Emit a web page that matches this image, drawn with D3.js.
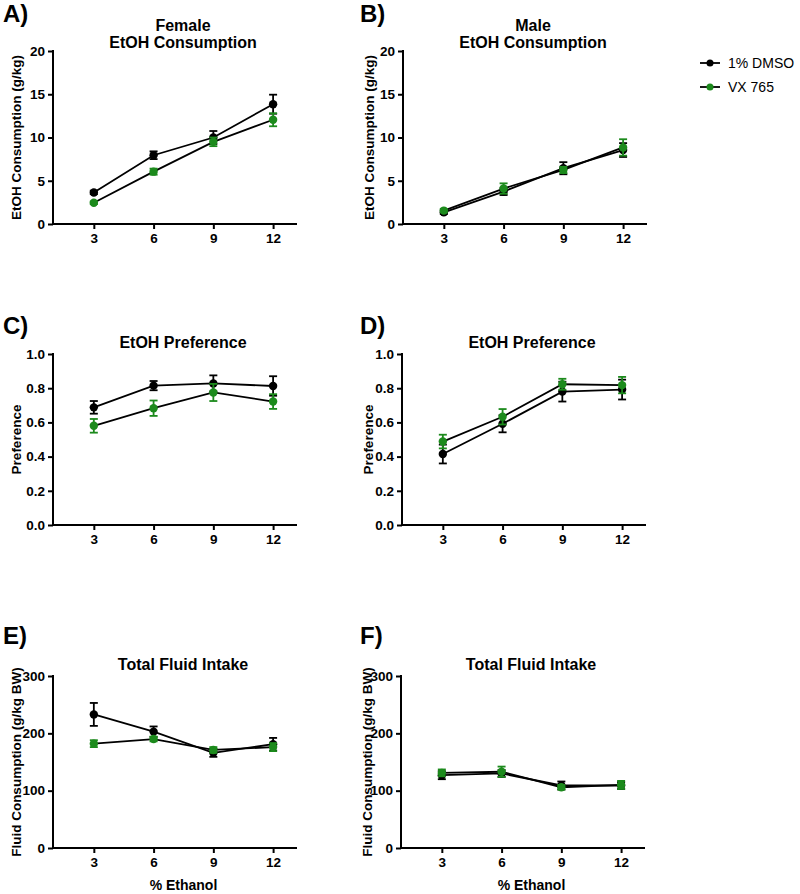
<!DOCTYPE html>
<html>
<head>
<meta charset="utf-8">
<script src="https://cdn.jsdelivr.net/npm/d3@7"></script>
<style>
  body { margin: 0; background: #fff; }
  svg text { font-family: "Liberation Sans", Arial, sans-serif; }
</style>
</head>
<body>
<svg id="chart" width="800" height="894"></svg>
<script>
// ========== DATA ==========
var ethanol = [3, 6, 9, 12];
var groups = ['1% DMSO', 'VX 765'];

// A) female EtOH consumption (g/kg)
var femaleConsDmso = [3.65, 7.95, 10.0, 13.85];
var femaleConsDmsoErr = [0.2, 0.45, 0.75, 1.1];
var femaleConsVx = [2.45, 6.05, 9.5, 12.05];
var femaleConsVxErr = [0.15, 0.35, 0.5, 0.75];

// B) male EtOH consumption (g/kg)
var maleConsDmso = [1.35, 3.75, 6.45, 8.55];
var maleConsDmsoErr = [0.2, 0.4, 0.7, 0.8];
var maleConsVx = [1.55, 4.1, 6.25, 8.85];
var maleConsVxErr = [0.2, 0.6, 0.35, 0.95];

// C) female preference
var femalePrefDmso = [0.688, 0.815, 0.828, 0.813];
var femalePrefDmsoErr = [0.037, 0.027, 0.047, 0.057];
var femalePrefVx = [0.58, 0.683, 0.775, 0.722];
var femalePrefVxErr = [0.04, 0.045, 0.05, 0.043];

// D) male preference
var malePrefDmso = [0.415, 0.592, 0.78, 0.792];
var malePrefDmsoErr = [0.055, 0.05, 0.058, 0.058];
var malePrefVx = [0.488, 0.633, 0.823, 0.818];
var malePrefVxErr = [0.04, 0.045, 0.032, 0.048];

// E) female total fluid (g/kg BW)
var femaleFluidDmso = [233, 203, 166, 181];
var femaleFluidDmsoErr = [20, 9, 7, 11];
var femaleFluidVx = [182, 190, 171, 176];
var femaleFluidVxErr = [6, 4, 5, 7];

// F) male total fluid (g/kg BW)
var maleFluidDmso = [127, 130, 109, 109];
var maleFluidDmsoErr = [7, 6, 7, 6];
var maleFluidVx = [131, 133, 106, 110];
var maleFluidVxErr = [6, 9, 4, 7];

var consTicks = [0, 5, 10, 15, 20];
var prefTicks = [0, 0.2, 0.4, 0.6, 0.8, 1.0];
var fluidTicks = [0, 100, 200, 300];

// ========== STYLE ==========
var black = '#000000';
var green = '#1c8a1c';
var colors = [black, green];

var svg = d3.select('#chart');

var panels = [
  { letter: 'A)', left: 53, top: 51, bottom: 224, title: ['Female', 'EtOH Consumption'],
    ylabel: 'EtOH Consumption (g/kg)', ticks: consTicks, fmt: d3.format('d'),
    series: [[femaleConsDmso, femaleConsDmsoErr], [femaleConsVx, femaleConsVxErr]] },
  { letter: 'B)', left: 403, top: 51, bottom: 224, title: ['Male', 'EtOH Consumption'],
    ylabel: 'EtOH Consumption (g/kg)', ticks: consTicks, fmt: d3.format('d'),
    series: [[maleConsDmso, maleConsDmsoErr], [maleConsVx, maleConsVxErr]] },
  { letter: 'C)', left: 53, top: 354, bottom: 525, title: ['EtOH Preference'],
    ylabel: 'Preference', ticks: prefTicks, fmt: d3.format('.1f'),
    series: [[femalePrefDmso, femalePrefDmsoErr], [femalePrefVx, femalePrefVxErr]] },
  { letter: 'D)', left: 402, top: 354, bottom: 525, title: ['EtOH Preference'],
    ylabel: 'Preference', ticks: prefTicks, fmt: d3.format('.1f'),
    series: [[malePrefDmso, malePrefDmsoErr], [malePrefVx, malePrefVxErr]] },
  { letter: 'E)', left: 53, top: 676, bottom: 848, title: ['Total Fluid Intake'],
    ylabel: 'Fluid Consumption (g/kg BW)', ticks: fluidTicks, fmt: d3.format('d'),
    xlabel: '% Ethanol',
    series: [[femaleFluidDmso, femaleFluidDmsoErr], [femaleFluidVx, femaleFluidVxErr]] },
  { letter: 'F)', left: 401, top: 676, bottom: 848, title: ['Total Fluid Intake'],
    ylabel: 'Fluid Consumption (g/kg BW)', ticks: fluidTicks, fmt: d3.format('d'),
    xlabel: '% Ethanol',
    series: [[maleFluidDmso, maleFluidDmsoErr], [maleFluidVx, maleFluidVxErr]] }
];

panels.forEach(drawPanel);
drawLegend();

function drawPanel(p) {
  var width = 244;
  var isLeft = p.left < 200;
  var x = d3.scaleLinear().domain([0.95, 13.2]).range([p.left, p.left + width]);
  var y = d3.scaleLinear()
    .domain([p.ticks[0], p.ticks[p.ticks.length - 1]])
    .range([p.bottom, p.top]);

  var g = svg.append('g');

  // panel letter
  var letterY = p.top < 100 ? 22 : (p.top < 400 ? 334 : 644);
  g.append('text')
    .attr('x', isLeft ? 3 : 360)
    .attr('y', letterY)
    .attr('font-size', 24)
    .attr('font-weight', 'bold')
    .text(p.letter);

  // title, last line sits just above the plot
  var lastBaseline = p.title.length > 1 ? p.top - 3 : p.top - 6;
  var title = g.append('text')
    .attr('text-anchor', 'middle')
    .attr('font-size', 16)
    .attr('font-weight', 'bold');
  p.title.forEach(function(t, i) {
    title.append('tspan')
      .attr('x', p.left + 130)
      .attr('y', lastBaseline - (p.title.length - 1 - i) * 17)
      .text(t);
  });

  // axes
  var yAxis = g.append('g')
    .attr('transform', 'translate(' + p.left + ',0)')
    .call(d3.axisLeft(y).tickValues(p.ticks).tickFormat(p.fmt).tickSize(5).tickPadding(3));
  var xAxis = g.append('g')
    .attr('transform', 'translate(0,' + p.bottom + ')')
    .call(d3.axisBottom(x).tickValues(ethanol).tickFormat(d3.format('d')).tickSize(5).tickPadding(4));
  [yAxis, xAxis].forEach(function(a) {
    a.select('.domain').remove();
    a.selectAll('.tick line').attr('stroke-width', 2);
    a.selectAll('.tick text')
      .attr('font-size', 13.5)
      .attr('font-weight', 'bold')
      .attr('font-family', '"Liberation Sans", Arial, sans-serif')
      .attr('fill', black);
  });
  g.append('line')
    .attr('x1', p.left).attr('x2', p.left)
    .attr('y1', p.top - 1).attr('y2', p.bottom + 1)
    .attr('stroke', black).attr('stroke-width', 2);
  g.append('line')
    .attr('x1', p.left).attr('x2', p.left + width)
    .attr('y1', p.bottom).attr('y2', p.bottom)
    .attr('stroke', black).attr('stroke-width', 2);

  // y label
  g.append('text')
    .attr('transform', 'translate(' + (p.left - (isLeft ? 37 : 34)) + ',' + ((p.top + p.bottom) / 2) + ') rotate(-90)')
    .attr('text-anchor', 'middle')
    .attr('dominant-baseline', 'central')
    .attr('font-size', 13.5)
    .attr('font-weight', 'bold')
    .text(p.ylabel);

  if (p.xlabel) {
    g.append('text')
      .attr('x', x((ethanol[0] + ethanol[3]) / 2))
      .attr('y', p.bottom + 42)
      .attr('text-anchor', 'middle')
      .attr('font-size', 14)
      .attr('font-weight', 'bold')
      .text(p.xlabel);
  }

  var line = d3.line()
    .x(function(d, i) { return x(ethanol[i]); })
    .y(function(d) { return y(d); });

  // connecting lines (always black)
  p.series.forEach(function(s) {
    g.append('path')
      .attr('d', line(s[0]))
      .attr('fill', 'none')
      .attr('stroke', black)
      .attr('stroke-width', 1.8);
  });

  // error bars and points
  p.series.forEach(function(s, si) {
    var c = colors[si];
    var eg = g.append('g');
    s[0].forEach(function(v, i) {
      var cx = x(ethanol[i]);
      var e = s[1][i];
      eg.append('line')
        .attr('x1', cx).attr('x2', cx)
        .attr('y1', y(v - e)).attr('y2', y(v + e))
        .attr('stroke', c).attr('stroke-width', 1.8);
      [v - e, v + e].forEach(function(ev) {
        eg.append('line')
          .attr('x1', cx - 4).attr('x2', cx + 4)
          .attr('y1', y(ev)).attr('y2', y(ev))
          .attr('stroke', c).attr('stroke-width', 1.8);
      });
      eg.append('circle')
        .attr('cx', cx)
        .attr('cy', y(v))
        .attr('r', 4.2)
        .attr('fill', c);
    });
  });
}

function drawLegend() {
  var lg = svg.append('g');
  groups.forEach(function(name, i) {
    var yy = 63 + i * 24;
    lg.append('line')
      .attr('x1', 700).attr('x2', 720)
      .attr('y1', yy).attr('y2', yy)
      .attr('stroke', black).attr('stroke-width', 1.8);
    lg.append('circle')
      .attr('cx', 710).attr('cy', yy).attr('r', 3.5)
      .attr('fill', colors[i]);
    lg.append('text')
      .attr('x', 728).attr('y', yy + 5)
      .attr('font-size', 14)
      .attr('fill', black)
      .text(name);
  });
}
</script>
</body>
</html>
